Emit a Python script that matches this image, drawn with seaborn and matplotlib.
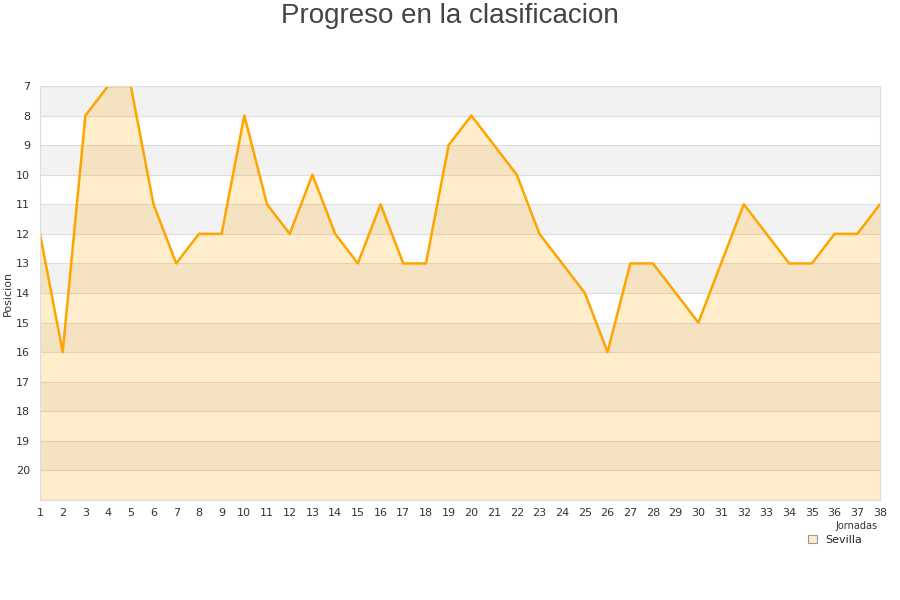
import matplotlib
matplotlib.use("Agg")
import matplotlib.pyplot as plt
import seaborn as sns
import pandas as pd

# Datos: posicion por jornada
jornadas = list(range(1, 39))
posiciones = [12, 16, 8, 7, 7, 11, 13, 12, 12, 8,
              11, 12, 10, 12, 13, 11, 13, 13, 9, 8,
              9, 10, 12, 13, 14, 16, 13, 13, 14, 15,
              13, 11, 12, 13, 13, 12, 12, 11]
equipo = "Sevilla"

df = pd.DataFrame({"Jornada": jornadas, "Posicion": posiciones})

sns.set_style("white")
plt.rcParams['font.family'] = ['DejaVu Sans']

fig = plt.figure(figsize=(9, 6), dpi=100)
ax = fig.add_axes([40 / 900, 1 - 500 / 600, 840 / 900, 414 / 600])

# bandas alternas de fondo
for y0 in range(7, 21, 2):
    ax.axhspan(y0, y0 + 1, color="#f2f2f2", zorder=0, lw=0)
for y in range(7, 22):
    ax.axhline(y, color="#dddddd", lw=0.8, zorder=1)

ax.fill_between(df["Jornada"], df["Posicion"], 21, color="orange", alpha=0.2, lw=0, zorder=2)
sns.lineplot(data=df, x="Jornada", y="Posicion", color="orange", lw=1.8, ax=ax, zorder=3)

ax.set_xlim(1, 38)
ax.set_ylim(21, 7)
ax.set_xticks(jornadas)
ax.set_yticks(range(7, 21))
ax.tick_params(axis="both", labelsize=8, colors="#333333", length=0)
ax.tick_params(axis="x", pad=6)
ax.tick_params(axis="y", pad=7)
ax.set_xlabel("")
ax.set_ylabel("Posicion", fontsize=8, color="#333333", labelpad=2)
for s in ax.spines.values():
    s.set_color("#dddddd")
    s.set_zorder(4)

fig.suptitle("Progreso en la clasificacion", fontsize=20, color="#444444", y=0.995,
             family=["Liberation Sans", "DejaVu Sans"])

fig.text(878 / 900, 1 - 526 / 600, "Jornadas", fontsize=7, color="#333333",
         ha="right", va="center", zorder=1)
handle = plt.Rectangle((0, 0), 1, 1, facecolor="#ffeccc", edgecolor="#999999", lw=0.8)
leg = fig.legend([handle], [equipo], loc="center", bbox_to_anchor=(835 / 900, 1 - 540 / 600),
                 frameon=False, fontsize=8,
                 handlelength=0.8, handleheight=0.8, borderpad=0.2)
leg.set_zorder(5)

fig.savefig("out.png", dpi=100)
